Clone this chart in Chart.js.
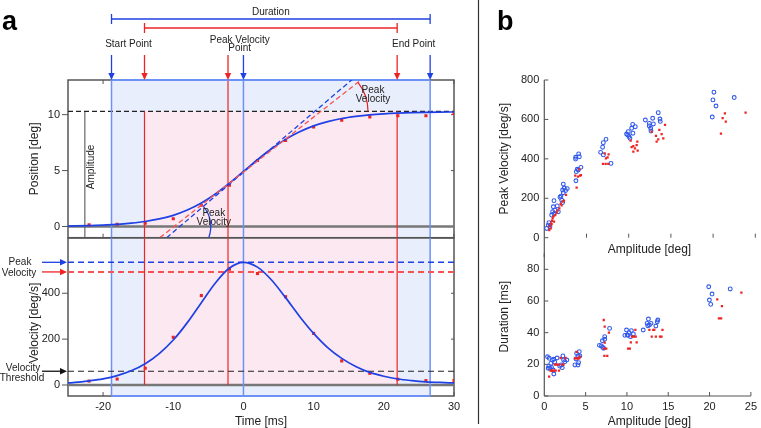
<!DOCTYPE html>
<html>
<head>
<meta charset="utf-8">
<script src="https://cdn.jsdelivr.net/npm/chart.js@4.4.1/dist/chart.umd.min.js"></script>
<style>
  body { margin: 0; background: #fff; }
  #wrap { position: relative; width: 761px; height: 428px; overflow: hidden; }
  #wrap canvas { position: absolute; left: 0; top: 0; }
</style>
</head>
<body>
<div id="wrap">
  <canvas id="posChart" width="761" height="428"></canvas>
  <canvas id="velChart" width="761" height="428"></canvas>
  <canvas id="pvChart" width="761" height="428"></canvas>
  <canvas id="durChart" width="761" height="428"></canvas>
</div>
<script>
// ---- panel a: one saccade ----
const curveTime = [-25, -24, -22, -20, -18, -16, -14, -12, -10, -8, -6, -4, -2, 0, 2, 4, 6, 8, 10, 12, 14, 16, 18, 20, 22, 24, 26, 28, 30];
const positionCurve = [0.04, 0.05, 0.08, 0.13, 0.19, 0.30, 0.45, 0.68, 1.00, 1.47, 2.10, 2.91, 3.87, 4.92, 5.98, 6.95, 7.79, 8.47, 9.00, 9.38, 9.66, 9.85, 9.99, 10.08, 10.14, 10.18, 10.21, 10.23, 10.24];
const velocityCurve = [9, 11, 18, 27, 41, 62, 93, 137, 196, 272, 359, 445, 510, 535, 514, 458, 381, 299, 225, 163, 116, 81, 55, 38, 26, 19, 14, 11, 9];

const sampleTime = [-22, -18, -14, -10, -6, -2, 2, 6, 10, 14, 18, 22, 26, 30];
const positionSample = [0.15, 0.2, 0.3, 0.7, 1.9, 3.7, 5.9, 7.7, 8.9, 9.5, 9.8, 9.9, 9.9, 10.1];
const velocitySample = [17, 26, 73, 208, 390, 505, 486, 385, 225, 105, 51, 25, 19, 19];

const blueBounds = [-18.8, 26.6];   // start / end from the fitted curve
const redBounds = [-14.1, 21.9];    // start / end from the samples
const bluePeakTime = 0;
const redPeakTime = -2.2;
const amplitude = 10.3;
const amplitudeMarkTime = -22.6;
const bluePeakVelocity = 535;
const redPeakVelocity = 493;
const velocityThreshold = 60;
const blueTangent = [{ x: -10.94, y: -1 }, { x: 15.5, y: 13.15 }];
const redTangent = [{ x: -11.9, y: -0.99 }, { x: 16.84, y: 13.15 }];

const timeTicks = [-20, -10, 0, 10, 20, 30];
const positionTicks = [0, 5, 10];
const velocityTicks = [0, 200, 400];

// ---- panel b: main sequence ----
const blueAmpPV = [0.28, 0.47, 0.55, 0.67, 0.87, 0.99, 1.07, 1.15, 1.15, 1.26, 1.54, 1.66, 1.86, 1.97, 2.17, 2.25, 2.25, 2.37, 2.53, 2.72, 2.17, 2.05,
  3.71, 3.71, 4.07, 4.15, 3.79, 3.91, 4.03, 4.34, 3.75,
  6.67, 6.91, 6.99, 7.31, 7.0, 7.9,
  9.75, 9.95, 10.03, 10.15, 10.35, 10.47, 10.78, 10.5, 9.87,
  11.97, 12.44, 12.44, 12.6, 12.84, 12.92, 13.5, 13.7, 13.74, 12.64,
  19.9, 19.98, 20.1, 20.34, 22.5];
const bluePeakVel = [47, 64, 76, 56, 115, 132, 157, 188, 120, 140, 161, 132, 205, 211, 242, 272, 228, 252, 239, 249, 178, 191,
  408, 399, 425, 411, 335, 347, 343, 357, 289,
  433, 459, 482, 499, 420, 377,
  526, 538, 513, 504, 555, 575, 563, 530, 521,
  597, 580, 567, 555, 606, 577, 634, 602, 590, 541,
  612, 699, 738, 668, 711];
const redAmpPV = [0.59, 0.67, 0.79, 0.91, 0.99, 1.07, 1.15, 1.3, 1.46, 1.58, 1.78, 1.94, 2.05, 2.17, 2.33, 2.57, 0.87, 0.75,
  3.83, 3.99, 4.23, 4.15, 4.34, 3.67,
  6.95, 7.27, 7.58, 7.31, 7.5, 7.15, 7.62,
  10.23, 10.35, 10.55, 10.74, 10.94, 11.02, 11.06, 10.55,
  12.72, 13.23, 13.31, 13.5, 13.63, 13.9, 14.1, 14.3,
  20.93, 21.13, 21.4, 21.5, 23.85];
const redPeakVel = [39, 59, 73, 86, 98, 107, 81, 115, 127, 137, 149, 171, 164, 183, 188, 217, 69, 47,
  254, 310, 315, 347, 318, 315,
  374, 374, 374, 403, 408, 428, 423,
  492, 459, 437, 453, 470, 487, 442, 465,
  538, 516, 487, 499, 547, 526, 504, 572,
  528, 606, 631, 589, 634];

const blueAmpDur = [0.39, 0.55, 0.67, 0.59, 0.79, 0.87, 0.99, 1.07, 1.15, 1.15, 1.26, 1.54, 1.86, 2.05, 2.17, 2.25, 2.33, 2.49, 2.72, 0.47,
  3.71, 3.83, 3.91, 4.07, 4.15, 4.23, 4.3, 4.07,
  6.67, 6.91, 7.03, 7.19, 7.31, 7.31, 7.9, 7.07,
  9.75, 9.95, 10.03, 10.27, 10.43, 10.54, 10.78, 10.15,
  11.97, 12.44, 12.6, 12.72, 12.92, 13.5, 13.67, 13.74, 12.52,
  19.9, 19.98, 20.14, 20.3, 22.5];
const blueDuration = [24.8, 18.9, 17.5, 23.8, 20.6, 18.1, 22.7, 16.4, 13.9, 23.2, 21.5, 24, 18.9, 19.6, 17.9, 25.3, 22.7, 21.7, 22.7, 17.5,
  19.6, 23.4, 26.9, 19.6, 21.1, 28, 25.3, 25.3,
  32, 31.6, 34.9, 30.1, 37.5, 35.8, 42.7, 30.7,
  38.3, 41.7, 38.5, 40, 37.5, 41.3, 39.2, 38.3,
  41.7, 45.9, 48.6, 44.8, 45.9, 44.2, 46.9, 48, 44.4,
  69, 60.6, 57.9, 64.4, 67.6];
const redAmpDur = [0.59, 0.75, 0.87, 0.99, 1.15, 1.26, 1.46, 1.58, 1.78, 1.97, 2.17, 2.33, 2.57, 1.38, 1.7,
  3.71, 3.91, 4.07, 4.23, 3.91, 4.3,
  7.19, 7.31, 7.31, 7.23, 7.5, 7.27, 7.62, 7.82,
  10.15, 10.35, 10.47, 10.62, 10.86, 11.06, 11.02, 11.18,
  12.72, 13, 13.19, 13.31, 13.5, 14, 14.18, 14.3,
  20.93, 21.13, 21.4, 21.5, 23.85];
const redDuration = [12.2, 16, 16, 16, 16, 19.8, 19.8, 19.8, 16, 24, 19.8, 19.8, 24, 16, 19.8,
  23.8, 23.8, 23.8, 23.8, 27.8, 24.8,
  48, 43.8, 33.7, 29.9, 29.9, 25.3, 25.3, 40,
  29.9, 29.9, 33.9, 37.5, 37.5, 37.5, 41.7, 33.9,
  41.7, 37.5, 41.7, 41.7, 37.5, 37.5, 37.5, 41.7,
  61, 49, 49, 56.8, 65.3];

const amplitudeTicks = [0, 5, 10, 15, 20, 25];
const peakVelTicks = [0, 200, 400, 600, 800];
const durationTicks = [0, 20, 40, 60, 80];

// ---- styling ----
const FONT = '"Liberation Sans", Arial, Helvetica, sans-serif';
const BLUE = 'rgb(30,64,228)';
const BLUE_DOT = 'rgb(50,90,235)';
const BLUE_EDGE = 'rgb(108,146,246)';
const BLUE_FILL = 'rgb(232,238,251)';
const PINK_FILL = 'rgb(251,232,240)';
const RED = 'rgb(238,36,36)';
const RED_DASH = 'rgb(246,84,84)';
const FRAME = '#555';
const TEXT = '#222';

Chart.defaults.font.family = FONT;
Chart.defaults.font.size = 11;
Chart.defaults.color = TEXT;

const zip = (xs, ys) => xs.map((x, i) => ({ x, y: ys[i] }));

function seg(ctx, x1, y1, x2, y2, color, w, dash) {
  ctx.save();
  ctx.beginPath();
  ctx.strokeStyle = color;
  ctx.lineWidth = w;
  ctx.setLineDash(dash || []);
  ctx.moveTo(x1, y1);
  ctx.lineTo(x2, y2);
  ctx.stroke();
  ctx.restore();
}

function arrow(ctx, x1, y1, x2, y2, color) {
  const ang = Math.atan2(y2 - y1, x2 - x1), L = 7, W = 3.2;
  const c = Math.cos(ang), s = Math.sin(ang);
  seg(ctx, x1, y1, x2 - L * 0.7 * c, y2 - L * 0.7 * s, color, 1.3);
  ctx.save();
  ctx.fillStyle = color;
  ctx.beginPath();
  ctx.moveTo(x2, y2);
  ctx.lineTo(x2 - L * c + W * s, y2 - L * s - W * c);
  ctx.lineTo(x2 - L * c - W * s, y2 - L * s + W * c);
  ctx.closePath();
  ctx.fill();
  ctx.restore();
}

function label(ctx, str, x, y, size, opts) {
  opts = opts || {};
  ctx.save();
  ctx.font = (opts.bold ? 'bold ' : '') + size + 'px ' + FONT;
  ctx.fillStyle = opts.color || TEXT;
  ctx.textAlign = opts.align || 'center';
  ctx.textBaseline = opts.baseline || 'middle';
  ctx.translate(x, y);
  if (opts.rotate) ctx.rotate(opts.rotate);
  ctx.fillText(str, 0, 0);
  ctx.restore();
}

function fixedTicks(values) {
  return scale => { scale.ticks = values.map(v => ({ value: v })); };
}

function baseOptions(padding) {
  return {
    responsive: false,
    animation: false,
    events: [],
    layout: { padding },
    plugins: { legend: { display: false }, tooltip: { enabled: false } }
  };
}

// ---------- position chart ----------
const positionDecor = {
  id: 'positionDecor',
  beforeDatasetsDraw(chart) {
    const { ctx, chartArea: a, scales: { x, y } } = chart;
    timeTicks.forEach(t => {
      const px = x.getPixelForValue(t);
      seg(ctx, px, a.top, px, a.top + 4, FRAME, 1);
      seg(ctx, px, a.bottom, px, a.bottom - 4, FRAME, 1);
    });
    const bx0 = x.getPixelForValue(blueBounds[0]), bx1 = x.getPixelForValue(blueBounds[1]);
    const rx0 = x.getPixelForValue(redBounds[0]), rx1 = x.getPixelForValue(redBounds[1]);
    const yAmp = y.getPixelForValue(amplitude), y0 = y.getPixelForValue(0);

    ctx.save();
    ctx.fillStyle = BLUE_FILL;
    ctx.fillRect(bx0, a.top, bx1 - bx0, a.bottom - a.top);
    ctx.fillStyle = PINK_FILL;
    ctx.fillRect(rx0, yAmp, rx1 - rx0, a.bottom - yAmp);
    ctx.strokeStyle = FRAME;
    ctx.lineWidth = 1.5;
    ctx.strokeRect(a.left, a.top, a.right - a.left, a.bottom - a.top);
    ctx.restore();

    positionTicks.forEach(v => {
      const py = y.getPixelForValue(v);
      seg(ctx, a.left - 6, py, a.left, py, FRAME, 1);
      seg(ctx, a.right, py, a.right - 3, py, FRAME, 1);
    });
    seg(ctx, a.left, y0, a.right, y0, '#777', 2.5);

    const xm = x.getPixelForValue(amplitudeMarkTime);
    seg(ctx, xm, yAmp, xm, a.bottom, '#666', 1.2);
    seg(ctx, a.left, yAmp, a.right, yAmp, '#222', 1.2, [5, 3]);

    seg(ctx, rx0, yAmp, rx0, a.bottom, RED, 1.2);
    seg(ctx, rx1, yAmp, rx1, a.bottom, RED, 1.2);
    const rp = x.getPixelForValue(redPeakTime);
    seg(ctx, rp, a.top, rp, a.bottom, RED, 1.2);

    const bp = x.getPixelForValue(bluePeakTime);
    seg(ctx, bp, a.top, bp, a.bottom, BLUE_EDGE, 1.5);
    seg(ctx, bx0, a.top, bx0, a.bottom, BLUE_EDGE, 1.5);
    seg(ctx, bx1, a.top, bx1, a.bottom, BLUE_EDGE, 1.5);
    seg(ctx, bx0, a.top, bx1, a.top, BLUE_EDGE, 2);

    label(ctx, 'Amplitude', xm + 6, (yAmp + y0) / 2 - 2, 10, { rotate: -Math.PI / 2 });
  },
  afterDatasetsDraw(chart) {
    const { ctx, chartArea: a, scales: { x, y } } = chart;
    const yAmp = y.getPixelForValue(amplitude), y0 = y.getPixelForValue(0);
    const px = p => ({ x: x.getPixelForValue(p.x), y: y.getPixelForValue(p.y) });

    // red angle mark where the red tangent meets the amplitude level
    const r0 = px(redTangent[0]), r1 = px(redTangent[1]);
    const rAng = Math.atan2(r1.y - r0.y, r1.x - r0.x);
    const rcx = r0.x + (yAmp - r0.y) / Math.tan(rAng);
    ctx.save();
    ctx.strokeStyle = RED; ctx.lineWidth = 1.3;
    ctx.beginPath(); ctx.arc(rcx, yAmp, 47, rAng, 0); ctx.stroke();
    ctx.restore();
    label(ctx, 'Peak', rcx + 52, yAmp - 21, 10);
    label(ctx, 'Velocity', rcx + 52, yAmp - 12.5, 10);

    // blue angle mark where the blue tangent meets zero
    const b0 = px(blueTangent[0]), b1 = px(blueTangent[1]);
    const bAng = Math.atan2(b1.y - b0.y, b1.x - b0.x);
    const bcx = b0.x + (y0 - b0.y) / Math.tan(bAng);
    ctx.save();
    ctx.beginPath(); ctx.rect(a.left, a.top, a.right - a.left, a.bottom - a.top); ctx.clip();
    ctx.strokeStyle = BLUE; ctx.lineWidth = 1.3;
    ctx.beginPath(); ctx.arc(bcx, y0, 31, bAng, 0.36); ctx.stroke();
    ctx.restore();
    label(ctx, 'Peak', bcx + 34, y0 - 13.4, 10);
    label(ctx, 'Velocity', bcx + 34, y0 - 4, 10);
  },
  afterDraw(chart) {
    const { ctx, chartArea: a, scales: { x } } = chart;
    const bx0 = x.getPixelForValue(blueBounds[0]), bx1 = x.getPixelForValue(blueBounds[1]);
    const rx0 = x.getPixelForValue(redBounds[0]), rx1 = x.getPixelForValue(redBounds[1]);
    const bp = x.getPixelForValue(bluePeakTime), rp = x.getPixelForValue(redPeakTime);

    // duration brackets
    seg(ctx, bx0, 19, bx1, 19, BLUE, 1.3);
    seg(ctx, bx0, 14, bx0, 24, BLUE, 1.3);
    seg(ctx, bx1, 14, bx1, 24, BLUE, 1.3);
    seg(ctx, rx0, 28, rx1, 28, RED, 1.3);
    seg(ctx, rx0, 23, rx0, 33, RED, 1.3);
    seg(ctx, rx1, 23, rx1, 33, RED, 1.3);
    label(ctx, 'Duration', (bx0 + bx1) / 2, 12, 10);

    // event arrows
    [[bx0, BLUE], [rx0, RED], [rp, RED], [bp, BLUE], [rx1, RED], [bx1, BLUE]].forEach(([xx, c]) => {
      arrow(ctx, xx, 55, xx, a.top, c);
    });
    label(ctx, 'Start Point', bx0 + 17, 44, 10);
    label(ctx, 'Peak Velocity', (rp + bp) / 2 + 4, 40, 10);
    label(ctx, 'Point', (rp + bp) / 2 + 4, 48.5, 10);
    label(ctx, 'End Point', (rx1 + bx1) / 2, 44, 10);

    label(ctx, 'Position [deg]', 35, (a.top + a.bottom) / 2, 12, { rotate: -Math.PI / 2 });
    label(ctx, 'a', 2, 30, 27, { bold: true, align: 'left', baseline: 'alphabetic', color: '#000' });
    seg(ctx, 478.5, 0, 478.5, 424, '#333', 1.2);
  }
};

new Chart(document.getElementById('posChart'), {
  type: 'scatter',
  data: {
    datasets: [
      { data: redTangent, showLine: true, borderColor: RED_DASH, borderWidth: 1.3, borderDash: [5, 3], pointRadius: 0 },
      { data: blueTangent, showLine: true, borderColor: BLUE, borderWidth: 1.3, borderDash: [5, 3], pointRadius: 0 },
      { data: zip(curveTime, positionCurve), showLine: true, borderColor: BLUE, borderWidth: 1.7, pointRadius: 0, cubicInterpolationMode: 'monotone' },
      { data: zip(sampleTime, positionSample), pointStyle: 'rect', pointRadius: 2.2, backgroundColor: RED, borderWidth: 0 }
    ]
  },
  options: Object.assign(baseOptions({ left: 38, top: 80, right: 307, bottom: 190.3 }), {
    scales: {
      x: { type: 'linear', min: -25, max: 30, display: false },
      y: {
        type: 'linear', min: -1, max: 13.1,
        grid: { display: false, drawTicks: false }, border: { display: false },
        ticks: { padding: 8, font: { size: 11 } },
        afterBuildTicks: fixedTicks(positionTicks),
        afterFit: s => { s.width = 30; }
      }
    }
  }),
  plugins: [positionDecor]
});

// ---------- velocity chart ----------
const velocityDecor = {
  id: 'velocityDecor',
  beforeDatasetsDraw(chart) {
    const { ctx, chartArea: a, scales: { x, y } } = chart;
    timeTicks.forEach(t => {
      const px = x.getPixelForValue(t);
      seg(ctx, px, a.bottom, px, a.bottom - 4, FRAME, 1);
    });
    const bx0 = x.getPixelForValue(blueBounds[0]), bx1 = x.getPixelForValue(blueBounds[1]);
    const rx0 = x.getPixelForValue(redBounds[0]), rx1 = x.getPixelForValue(redBounds[1]);
    const y0 = y.getPixelForValue(0);

    ctx.save();
    ctx.fillStyle = BLUE_FILL;
    ctx.fillRect(bx0, a.top, bx1 - bx0, a.bottom - a.top);
    ctx.fillStyle = PINK_FILL;
    ctx.fillRect(rx0, a.top, rx1 - rx0, y0 - a.top);
    ctx.strokeStyle = FRAME;
    ctx.lineWidth = 1.5;
    ctx.strokeRect(a.left, a.top, a.right - a.left, a.bottom - a.top);
    ctx.restore();

    velocityTicks.forEach(v => {
      const py = y.getPixelForValue(v);
      seg(ctx, a.left - 6, py, a.left, py, FRAME, 1);
      seg(ctx, a.right, py, a.right - 3, py, FRAME, 1);
    });
    seg(ctx, a.left, y0, a.right, y0, '#777', 2.5);

    const rp = x.getPixelForValue(redPeakTime);
    [rx0, rp, rx1].forEach(xx => seg(ctx, xx, a.top, xx, y0, RED, 1.2));
    const bp = x.getPixelForValue(bluePeakTime);
    [bx0, bp, bx1].forEach(xx => seg(ctx, xx, a.top, xx, a.bottom, BLUE_EDGE, 1.5));
    seg(ctx, bx0, a.bottom, bx1, a.bottom, BLUE_EDGE, 2);

    const yb = y.getPixelForValue(bluePeakVelocity);
    const yr = y.getPixelForValue(redPeakVelocity);
    const yt = y.getPixelForValue(velocityThreshold);
    seg(ctx, a.left, yb, a.right, yb, BLUE, 1.4, [6, 4]);
    seg(ctx, a.left, yr, a.right, yr, RED_DASH, 2, [6, 4]);
    seg(ctx, a.left, yt, a.right, yt, '#222', 1.2, [6, 4]);
  },
  afterDraw(chart) {
    const { ctx, chartArea: a, scales: { y } } = chart;
    const yb = y.getPixelForValue(bluePeakVelocity);
    const yr = y.getPixelForValue(redPeakVelocity);
    const yt = y.getPixelForValue(velocityThreshold);
    arrow(ctx, 42, yb, a.left - 1, yb, BLUE);
    arrow(ctx, 42, yr, a.left - 1, yr, RED);
    arrow(ctx, 42, yt, a.left - 1, yt, '#111');
    label(ctx, 'Peak', 20, yb, 10);
    label(ctx, 'Velocity', 19, yr + 1, 10);
    label(ctx, 'Velocity', 23, yt - 3, 10);
    label(ctx, 'Threshold', 22, yt + 7.5, 10);

    label(ctx, 'Velocity [deg/s]', 35, 323, 12, { rotate: -Math.PI / 2 });
    label(ctx, 'Time [ms]', (a.left + a.right) / 2, 421.5, 12);
  }
};

new Chart(document.getElementById('velChart'), {
  type: 'scatter',
  data: {
    datasets: [
      { data: zip(curveTime, velocityCurve), showLine: true, borderColor: BLUE, borderWidth: 1.7, pointRadius: 0, cubicInterpolationMode: 'monotone' },
      { data: zip(sampleTime, velocitySample), pointStyle: 'rect', pointRadius: 2.2, backgroundColor: RED, borderWidth: 0 }
    ]
  },
  options: Object.assign(baseOptions({ left: 38, top: 238, right: 307, bottom: 0 }), {
    scales: {
      x: {
        type: 'linear', min: -25, max: 30,
        grid: { display: false, drawTicks: false }, border: { display: false },
        ticks: { padding: 4, maxRotation: 0, autoSkip: false, font: { size: 11 } },
        afterBuildTicks: fixedTicks(timeTicks),
        afterFit: s => { s.height = 32; }
      },
      y: {
        type: 'linear', min: -48, max: 641,
        grid: { display: false, drawTicks: false }, border: { display: false },
        ticks: { padding: 8, font: { size: 11 } },
        afterBuildTicks: fixedTicks(velocityTicks),
        afterFit: s => { s.width = 30; }
      }
    }
  }),
  plugins: [velocityDecor]
});

// ---------- panel b ----------
function mainSequenceDecor(id, yTicks, title, opts) {
  return {
    id,
    beforeDatasetsDraw(chart) {
      const { ctx, chartArea: a, scales: { x, y } } = chart;
      seg(ctx, a.left, a.top, a.left, opts.axisBottom || a.bottom, FRAME, 1.2);
      if (opts.bottomAxis) seg(ctx, a.left, a.bottom, a.right, a.bottom, FRAME, 1.2);
      yTicks.forEach(v => {
        const py = y.getPixelForValue(v);
        seg(ctx, a.left, py, a.left + 4, py, FRAME, 1);
      });
      amplitudeTicks.slice(1).forEach(v => {
        const px = x.getPixelForValue(v);
        seg(ctx, px, a.bottom, px, a.bottom - 4, FRAME, 1);
      });
    },
    afterDraw(chart) {
      const { ctx } = chart;
      label(ctx, title, 505, opts.titleY, 12, { rotate: -Math.PI / 2 });
      label(ctx, 'Amplitude [deg]', 649.5, opts.xTitleY, 12);
      if (opts.letter) label(ctx, 'b', 497, 30, 27, { bold: true, align: 'left', baseline: 'alphabetic', color: '#000' });
    }
  };
}

function mainSequenceSets(bx, by, rx, ry) {
  return [
    { data: zip(rx, ry), pointStyle: 'rect', pointRadius: 1.6, backgroundColor: RED, borderWidth: 0 },
    { data: zip(bx, by), pointStyle: 'circle', pointRadius: 1.9, borderColor: BLUE_DOT, borderWidth: 1.1, backgroundColor: 'rgba(0,0,0,0)' }
  ];
}

new Chart(document.getElementById('pvChart'), {
  type: 'scatter',
  data: { datasets: mainSequenceSets(blueAmpPV, bluePeakVel, redAmpPV, redPeakVel) },
  options: Object.assign(baseOptions({ left: 514.3, top: 80, right: 5.7, bottom: 190.3 }), {
    scales: {
      x: { type: 'linear', min: 0, max: 25, display: false },
      y: {
        type: 'linear', min: 0, max: 800,
        grid: { display: false, drawTicks: false }, border: { display: false },
        ticks: { padding: 5, font: { size: 11 } },
        afterBuildTicks: fixedTicks(peakVelTicks),
        afterFit: s => { s.width = 30; }
      }
    }
  }),
  plugins: [mainSequenceDecor('pvDecor', peakVelTicks, 'Peak Velocity [deg/s]', { axisBottom: 257, titleY: 158.7, xTitleY: 250, letter: true })]
});

new Chart(document.getElementById('durChart'), {
  type: 'scatter',
  data: { datasets: mainSequenceSets(blueAmpDur, blueDuration, redAmpDur, redDuration) },
  options: Object.assign(baseOptions({ left: 514.3, top: 253.5, right: 5.7, bottom: 0 }), {
    scales: {
      x: {
        type: 'linear', min: 0, max: 25,
        grid: { display: false, drawTicks: false }, border: { display: false },
        ticks: { padding: 4, maxRotation: 0, autoSkip: false, font: { size: 11 } },
        afterBuildTicks: fixedTicks(amplitudeTicks),
        afterFit: s => { s.height = 32; }
      },
      y: {
        type: 'linear', min: 0, max: 90,
        grid: { display: false, drawTicks: false }, border: { display: false },
        ticks: { padding: 5, font: { size: 11 } },
        afterBuildTicks: fixedTicks(durationTicks),
        afterFit: s => { s.width = 30; }
      }
    }
  }),
  plugins: [mainSequenceDecor('durDecor', durationTicks, 'Duration [ms]', { bottomAxis: true, titleY: 316.7, xTitleY: 421.7 })]
});
</script>
</body>
</html>
